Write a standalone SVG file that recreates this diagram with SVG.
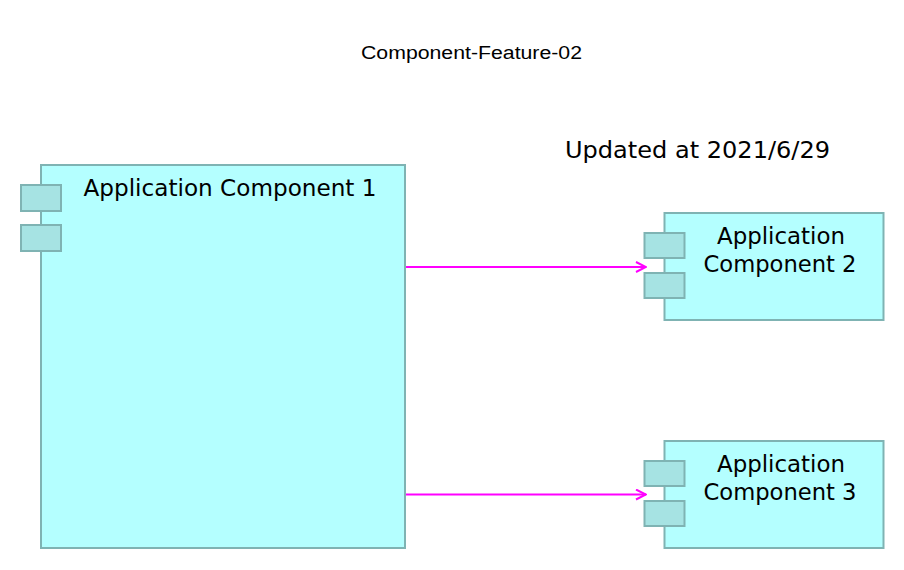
<svg xmlns="http://www.w3.org/2000/svg" width="904" height="570" viewBox="0 0 904 570">
<defs>
<style>
.box{fill:#B4FFFF;stroke:#7FB3B3;stroke-width:2}
.port{fill:#A6E3E3;stroke:#7FB3B3;stroke-width:2}
.lbl{font-family:"DejaVu Sans",Verdana,sans-serif;font-size:23px;fill:#000}
.title{font-family:"Liberation Sans",Arial,sans-serif;font-size:18px;fill:#000}
.edge{stroke:#FF00FF;stroke-width:2;fill:none}
</style>
<marker id="arr" viewBox="0 0 12 12" refX="11" refY="6" markerWidth="12" markerHeight="12" markerUnits="userSpaceOnUse" orient="auto">
<path d="M1,1 L11,6 L1,11" fill="none" stroke="#FF00FF" stroke-width="2"/>
</marker>
</defs>
<rect width="904" height="570" fill="#FFFFFF"/>
<text class="title" x="471.5" y="59" text-anchor="middle" textLength="221" lengthAdjust="spacingAndGlyphs">Component-Feature-02</text>
<text class="lbl" x="565" y="158" font-size="24" textLength="265" lengthAdjust="spacingAndGlyphs">Updated at 2021/6/29</text>
<g id="comp1">
<rect class="box" x="41" y="165" width="364" height="383"/>
<rect class="port" x="21" y="185" width="40" height="26"/>
<rect class="port" x="21" y="225" width="40" height="26"/>
<text class="lbl" x="83.5" y="196" textLength="293" lengthAdjust="spacingAndGlyphs">Application Component 1</text>
</g>
<g id="comp2">
<rect class="box" x="664.5" y="213" width="219" height="107"/>
<rect class="port" x="644.5" y="233" width="40" height="25"/>
<rect class="port" x="644.5" y="273" width="40" height="25"/>
<text class="lbl" x="781" y="244.3" text-anchor="middle" textLength="128" lengthAdjust="spacingAndGlyphs">Application</text>
<text class="lbl" x="780" y="272.3" text-anchor="middle" textLength="153" lengthAdjust="spacingAndGlyphs">Component 2</text>
</g>
<g id="comp3">
<rect class="box" x="664.5" y="441" width="219" height="107"/>
<rect class="port" x="644.5" y="461" width="40" height="25"/>
<rect class="port" x="644.5" y="501" width="40" height="25"/>
<text class="lbl" x="781" y="472.3" text-anchor="middle" textLength="128" lengthAdjust="spacingAndGlyphs">Application</text>
<text class="lbl" x="780" y="500.3" text-anchor="middle" textLength="153" lengthAdjust="spacingAndGlyphs">Component 3</text>
</g>
<g id="connectors">
<path class="edge" d="M406,267 L646,267" marker-end="url(#arr)"/>
<path class="edge" d="M406,494.5 L646,494.5" marker-end="url(#arr)"/>
</g>
</svg>
